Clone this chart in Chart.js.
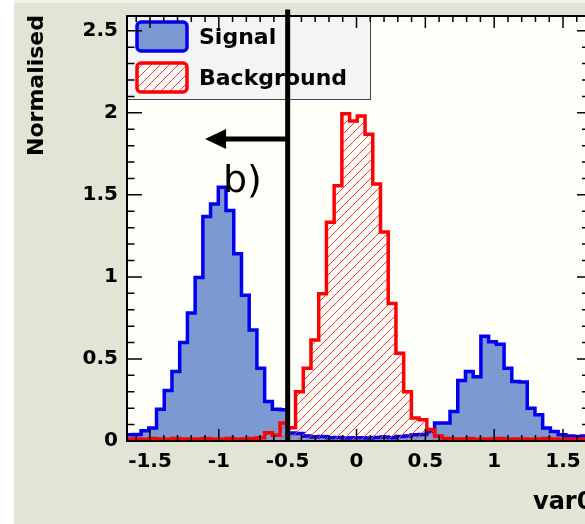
<!DOCTYPE html>
<html>
<head>
<meta charset="utf-8">
<script src="https://cdn.jsdelivr.net/npm/chart.js@4.4.0/dist/chart.umd.min.js"></script>
<style>
  html, body { margin: 0; padding: 0; overflow: hidden; background: #fff; }
  #wrap { position: relative; width: 600px; height: 524px; }
</style>
</head>
<body>
<div id="wrap"><canvas id="c" width="600" height="524"></canvas></div>
<script>
// --- DATA ---
const binStart = -1.677;
const binWidth = 0.0561;

const signal = [
  0.038, 0.04, 0.062, 0.079, 0.194, 0.307, 0.423, 0.60, 0.78, 0.996,
  1.368, 1.445, 1.546, 1.404, 1.141, 0.888, 0.676, 0.443, 0.24, 0.194,
  0.19, 0.048, 0.045, 0.03, 0.025, 0.028, 0.02, 0.022, 0.018, 0.02,
  0.02, 0.018, 0.022, 0.025, 0.02, 0.028, 0.03, 0.038, 0.04, 0.058,
  0.109, 0.11, 0.18, 0.368, 0.423, 0.392, 0.639, 0.605, 0.59, 0.443,
  0.362, 0.36, 0.2, 0.16, 0.079, 0.058, 0.038, 0.03, 0.028, 0.03
];

const background = [
  0.01, 0.012, 0.01, 0.015, 0.012, 0.01, 0.015, 0.012, 0.01, 0.012,
  0.015, 0.01, 0.012, 0.015, 0.01, 0.012, 0.015, 0.02, 0.05, 0.035,
  0.11, 0.08, 0.30, 0.443, 0.615, 0.898, 1.333, 1.556, 1.995, 1.95,
  1.98, 1.87, 1.566, 1.273, 0.838, 0.534, 0.30, 0.14, 0.13, 0.07,
  0.03, 0.015, 0.012, 0.012, 0.015, 0.01, 0.012, 0.012, 0.015, 0.01,
  0.012, 0.012, 0.01, 0.012, 0.015, 0.012, 0.01, 0.012, 0.01, 0.012
];

const xTickLabels = ['-1.5', '-1', '-0.5', '0', '0.5', '1', '1.5'];
const yTickLabels = ['0', '0.5', '1', '1.5', '2', '2.5'];
const legendLabels = ['Signal', 'Background'];
const cutValue = -0.5;

// --- STYLE ---
const FONT = '"DejaVu Sans", "Liberation Sans", sans-serif';
const SIG_LINE = '#0000ee';
const SIG_FILL = '#7d99d1';
const BKG_LINE = '#ff0000';

const canvas = document.getElementById('c');
const ctx = canvas.getContext('2d');

const makeHatch = () => {
  const c = document.createElement('canvas');
  c.width = 9; c.height = 9;
  const g = c.getContext('2d');
  g.strokeStyle = '#ff3a3a';
  g.lineWidth = 1;
  g.beginPath();
  g.moveTo(-1, 10); g.lineTo(10, -1);
  g.moveTo(-1, 1); g.lineTo(1, -1);
  g.moveTo(8, 10); g.lineTo(10, 8);
  g.stroke();
  return ctx.createPattern(c, 'repeat');
};
const hatch = makeHatch();

// step outline: closes down to zero at both ends like a ROOT histogram
const histPoints = (values) => {
  const pts = [{ x: binStart, y: 0 }];
  values.forEach((v, i) => pts.push({ x: binStart + i * binWidth, y: v }));
  const end = binStart + values.length * binWidth;
  pts.push({ x: end, y: values[values.length - 1] });
  pts.push({ x: end, y: 0 });
  return pts;
};

const rootStyle = {
  id: 'rootStyle',
  beforeDraw(chart) {
    const { ctx, chartArea: a, width, height } = chart;
    ctx.save();
    ctx.fillStyle = '#f2f2ee';
    ctx.fillRect(0, 0, width, height);
    ctx.fillStyle = '#ffffff';
    ctx.fillRect(0, 0, 14, height);
    ctx.fillStyle = '#e3e3d6';
    ctx.fillRect(14, 3, width - 14, height - 3);
    ctx.fillStyle = '#fffffa';
    ctx.fillRect(a.left, a.top, a.right - a.left, a.bottom - a.top);
    ctx.restore();
  },
  afterDatasetsDraw(chart) {
    const { ctx, chartArea: a } = chart;
    const xs = chart.scales.x, ys = chart.scales.y;
    ctx.save();

    // legend
    ctx.fillStyle = '#f4f4f6';
    ctx.fillRect(a.left, a.top, 243, 83);
    ctx.strokeStyle = '#444';
    ctx.lineWidth = 1;
    ctx.strokeRect(a.left + 0.5, a.top + 0.5, 243, 83);

    const swatch = (y, fill, line) => {
      ctx.beginPath();
      ctx.roundRect(137, y, 50, 29, 4);
      ctx.fillStyle = '#ffffff';
      ctx.fill();
      ctx.fillStyle = fill;
      ctx.fill();
      ctx.lineWidth = 3.5;
      ctx.strokeStyle = line;
      ctx.stroke();
    };
    swatch(22, SIG_FILL, SIG_LINE);
    swatch(63, hatch, BKG_LINE);
    ctx.fillStyle = '#000';
    ctx.font = 'bold 22px ' + FONT;
    ctx.textAlign = 'left';
    ctx.textBaseline = 'alphabetic';
    ctx.fillText(legendLabels[0], 199, 44);
    ctx.fillText(legendLabels[1], 199, 85);

    // frame
    ctx.strokeStyle = '#000';
    ctx.lineWidth = 2;
    ctx.strokeRect(a.left, a.top, a.right - a.left, a.bottom - a.top);

    // ticks, ROOT style (inside the frame, on all four sides)
    ctx.lineWidth = 1.5;
    ctx.beginPath();
    for (let i = -16; i <= 16; i++) {
      const px = xs.getPixelForValue(i / 10);
      const len = i % 5 === 0 ? 12 : 6;
      ctx.moveTo(px, a.bottom); ctx.lineTo(px, a.bottom - len);
      ctx.moveTo(px, a.top); ctx.lineTo(px, a.top + len);
    }
    for (let i = 0; i <= 25; i++) {
      const py = ys.getPixelForValue(i / 10);
      const major = i % 5 === 0;
      ctx.moveTo(a.left, py); ctx.lineTo(a.left + (major ? 15 : 7.5), py);
      ctx.moveTo(a.right, py); ctx.lineTo(a.right - (major ? 9 : 4), py);
    }
    ctx.stroke();

    // tick labels
    ctx.fillStyle = '#000';
    ctx.font = 'bold 20px ' + FONT;
    ctx.textAlign = 'center';
    ctx.textBaseline = 'middle';
    xTickLabels.forEach(t => ctx.fillText(t, xs.getPixelForValue(Number(t)), a.bottom + 21));
    ctx.textAlign = 'right';
    yTickLabels.forEach(t => ctx.fillText(t, a.left - 9, ys.getPixelForValue(Number(t))));

    // axis titles
    ctx.font = 'bold 22px ' + FONT;
    ctx.textBaseline = 'alphabetic';
    ctx.save();
    ctx.translate(43, 15);
    ctx.rotate(-Math.PI / 2);
    ctx.textAlign = 'right';
    ctx.fillText('Normalised', 0, 0);
    ctx.restore();
    ctx.font = 'bold 24px ' + FONT;
    ctx.textAlign = 'left';
    ctx.fillText('var0', 533, 509);

    // cut line and arrow
    const cx = xs.getPixelForValue(cutValue);
    ctx.strokeStyle = '#000';
    ctx.lineWidth = 5;
    ctx.beginPath();
    ctx.moveTo(cx, ys.getPixelForValue(2.63));
    ctx.lineTo(cx, a.bottom);
    ctx.stroke();

    const ay = ys.getPixelForValue(1.84);
    const tip = xs.getPixelForValue(-1.1);
    ctx.lineWidth = 5;
    ctx.beginPath();
    ctx.moveTo(cx, ay);
    ctx.lineTo(tip + 18, ay);
    ctx.stroke();
    ctx.fillStyle = '#000';
    ctx.beginPath();
    ctx.moveTo(tip, ay);
    ctx.lineTo(tip + 21, ay - 10);
    ctx.lineTo(tip + 21, ay + 10);
    ctx.closePath();
    ctx.fill();

    ctx.font = '38px ' + FONT;
    ctx.fillStyle = '#000';
    ctx.textAlign = 'left';
    ctx.fillText('b)', 223, 192);

    ctx.restore();
  }
};

new Chart(ctx, {
  type: 'line',
  data: {
    datasets: [
      {
        label: legendLabels[1],
        data: histPoints(background),
        stepped: true,
        borderColor: BKG_LINE,
        borderWidth: 3.5,
        backgroundColor: hatch,
        fill: 'origin',
        pointRadius: 0
      },
      {
        label: legendLabels[0],
        data: histPoints(signal),
        stepped: true,
        borderColor: SIG_LINE,
        borderWidth: 3.5,
        backgroundColor: SIG_FILL,
        fill: 'origin',
        pointRadius: 0
      }
    ]
  },
  options: {
    responsive: false,
    animation: false,
    layout: { padding: { left: 127, top: 16, right: 14, bottom: 83 } },
    scales: {
      x: { type: 'linear', min: -1.667, max: 1.667, display: false },
      y: { min: 0, max: 2.59, display: false }
    },
    plugins: {
      legend: { display: false },
      tooltip: { enabled: false }
    }
  },
  plugins: [rootStyle]
});
</script>
</body>
</html>
